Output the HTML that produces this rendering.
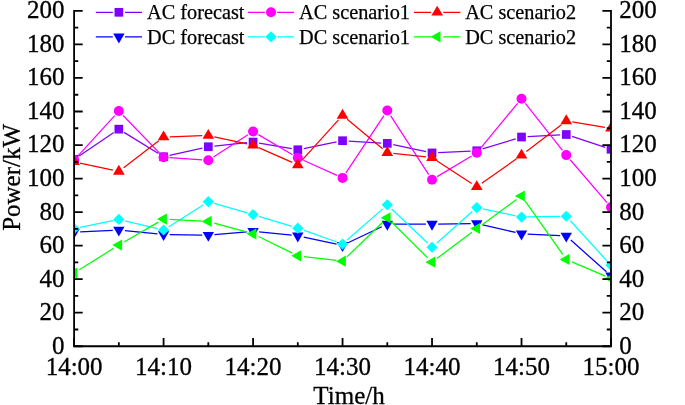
<!DOCTYPE html>
<html><head><meta charset="utf-8"><style>
html,body{margin:0;padding:0;background:#fff;}
body{width:685px;height:405px;overflow:hidden;}
svg{display:block;will-change:transform;font-family:"Liberation Serif",serif;}
</style></head><body>
<svg width="685" height="405" viewBox="0 0 685 405">
<defs><clipPath id="c"><rect x="74.10" y="0" width="536.90" height="345.90"/></clipPath></defs>
<rect width="685" height="405" fill="#fff"/>
<g clip-path="url(#c)">
<path d="M79.16,155.90L113.78,132.56M124.03,132.36L158.39,153.59M169.54,155.46L202.37,148.08M214.39,146.11L247.00,142.69M259.08,143.09L291.80,148.72M303.79,148.55L336.57,141.92M348.64,141.08L381.20,143.03M393.26,144.67L426.07,151.67M438.13,152.64L470.68,151.06M482.61,148.97L515.69,138.82M527.61,136.69L560.17,134.86M572.05,136.42L605.21,147.35" stroke="#8000ff" stroke-width="1.25" fill="none"/>
<rect x="69.75" y="154.95" width="8.70" height="8.70" fill="#8000ff"/>
<rect x="114.49" y="124.80" width="8.70" height="8.70" fill="#8000ff"/>
<rect x="159.23" y="152.44" width="8.70" height="8.70" fill="#8000ff"/>
<rect x="203.97" y="142.39" width="8.70" height="8.70" fill="#8000ff"/>
<rect x="248.72" y="137.70" width="8.70" height="8.70" fill="#8000ff"/>
<rect x="293.46" y="145.41" width="8.70" height="8.70" fill="#8000ff"/>
<rect x="338.20" y="136.36" width="8.70" height="8.70" fill="#8000ff"/>
<rect x="382.94" y="139.04" width="8.70" height="8.70" fill="#8000ff"/>
<rect x="427.68" y="148.59" width="8.70" height="8.70" fill="#8000ff"/>
<rect x="472.42" y="146.41" width="8.70" height="8.70" fill="#8000ff"/>
<rect x="517.17" y="132.68" width="8.70" height="8.70" fill="#8000ff"/>
<rect x="561.91" y="130.16" width="8.70" height="8.70" fill="#8000ff"/>
<rect x="606.65" y="144.90" width="8.70" height="8.70" fill="#8000ff"/>
<path d="M78.21,155.63L114.73,115.57M123.08,115.45L159.34,152.91M169.67,157.71L202.24,159.90M213.45,157.01L247.94,134.80M258.33,134.59L292.55,154.71M303.37,160.30L336.99,175.40M345.93,172.82L383.92,115.64M390.60,115.68L428.72,174.62M437.26,176.59L471.55,155.92M480.66,148.07L517.63,103.37M525.31,103.45L562.47,150.34M570.23,159.74L607.03,202.58" stroke="#ff00ff" stroke-width="1.25" fill="none"/>
<circle cx="74.10" cy="160.14" r="5.00" fill="#ff00ff"/>
<circle cx="118.84" cy="111.07" r="5.00" fill="#ff00ff"/>
<circle cx="163.58" cy="157.29" r="5.00" fill="#ff00ff"/>
<circle cx="208.32" cy="160.31" r="5.00" fill="#ff00ff"/>
<circle cx="253.07" cy="131.50" r="5.00" fill="#ff00ff"/>
<circle cx="297.81" cy="157.80" r="5.00" fill="#ff00ff"/>
<circle cx="342.55" cy="177.90" r="5.00" fill="#ff00ff"/>
<circle cx="387.29" cy="110.56" r="5.00" fill="#ff00ff"/>
<circle cx="432.03" cy="179.74" r="5.00" fill="#ff00ff"/>
<circle cx="476.77" cy="152.77" r="5.00" fill="#ff00ff"/>
<circle cx="521.52" cy="98.67" r="5.00" fill="#ff00ff"/>
<circle cx="566.26" cy="155.12" r="5.00" fill="#ff00ff"/>
<circle cx="611.00" cy="207.21" r="5.00" fill="#ff00ff"/>
<path d="M80.07,163.09L112.88,170.09M123.68,167.65L158.74,140.74M169.68,136.82L202.23,135.73M214.29,136.81L247.11,143.94M258.65,147.68L292.22,162.39M301.90,160.31L338.46,119.94M347.24,119.32L382.60,148.71M393.35,153.29L425.97,156.95M437.14,160.96L471.66,183.45M481.76,183.26L516.53,158.80M526.36,151.57L561.42,124.66M572.28,121.94L604.98,127.33" stroke="#ff0000" stroke-width="1.25" fill="none"/>
<polygon points="74.10,155.22 68.25,165.12 79.95,165.12" fill="#ff0000"/>
<polygon points="118.84,164.76 112.99,174.66 124.69,174.66" fill="#ff0000"/>
<polygon points="163.58,130.43 157.73,140.33 169.43,140.33" fill="#ff0000"/>
<polygon points="208.32,128.92 202.47,138.82 214.17,138.82" fill="#ff0000"/>
<polygon points="253.07,138.63 247.22,148.53 258.92,148.53" fill="#ff0000"/>
<polygon points="297.81,158.23 291.96,168.13 303.66,168.13" fill="#ff0000"/>
<polygon points="342.55,108.82 336.70,118.72 348.40,118.72" fill="#ff0000"/>
<polygon points="387.29,146.00 381.44,155.91 393.14,155.91" fill="#ff0000"/>
<polygon points="432.03,151.03 426.18,160.93 437.88,160.93" fill="#ff0000"/>
<polygon points="476.77,180.17 470.92,190.07 482.62,190.07" fill="#ff0000"/>
<polygon points="521.52,148.68 515.67,158.58 527.37,158.58" fill="#ff0000"/>
<polygon points="566.26,114.35 560.41,124.25 572.11,124.25" fill="#ff0000"/>
<polygon points="611.00,121.72 605.15,131.62 616.85,131.62" fill="#ff0000"/>
<path d="M80.19,231.87L112.75,230.29M124.91,230.60L157.51,233.90M169.68,234.60L202.23,235.09M214.40,234.66L246.99,231.85M259.14,231.94L291.74,235.24M303.77,237.13L336.58,244.13M348.06,242.78L381.78,226.75M393.39,224.13L425.93,224.13M438.13,224.06L470.68,223.69M482.72,224.98L515.57,232.48M527.61,234.14L560.17,235.72M570.81,240.08L606.45,271.83" stroke="#0000ff" stroke-width="1.25" fill="none"/>
<polygon points="74.10,238.77 68.40,228.87 79.80,228.87" fill="#0000ff"/>
<polygon points="118.84,236.59 113.14,226.69 124.54,226.69" fill="#0000ff"/>
<polygon points="163.58,241.11 157.88,231.21 169.28,231.21" fill="#0000ff"/>
<polygon points="208.32,241.78 202.62,231.88 214.02,231.88" fill="#0000ff"/>
<polygon points="253.07,237.93 247.37,228.03 258.77,228.03" fill="#0000ff"/>
<polygon points="297.81,242.45 292.11,232.55 303.51,232.55" fill="#0000ff"/>
<polygon points="342.55,252.00 336.85,242.10 348.25,242.10" fill="#0000ff"/>
<polygon points="387.29,230.73 381.59,220.83 392.99,220.83" fill="#0000ff"/>
<polygon points="432.03,230.73 426.33,220.83 437.73,220.83" fill="#0000ff"/>
<polygon points="476.77,230.22 471.07,220.32 482.47,220.32" fill="#0000ff"/>
<polygon points="521.52,240.44 515.82,230.54 527.22,230.54" fill="#0000ff"/>
<polygon points="566.26,242.62 560.56,232.72 571.96,232.72" fill="#0000ff"/>
<polygon points="611.00,282.49 605.30,272.58 616.70,272.58" fill="#0000ff"/>
<path d="M80.07,227.42L112.87,220.67M124.78,220.84L157.65,228.59M168.74,226.73L203.17,204.94M214.19,203.37L247.21,212.89M258.90,216.35L291.97,226.38M303.56,230.19L336.80,242.02M347.14,240.04L382.70,208.88M391.72,209.06L427.60,243.05M436.60,243.19L472.21,211.59M482.74,208.82L515.55,215.82M527.62,216.98L560.16,216.37M570.37,220.76L606.89,260.82" stroke="#00ffff" stroke-width="1.25" fill="none"/>
<polygon points="74.10,223.05 79.70,228.65 74.10,234.25 68.50,228.65" fill="#00ffff"/>
<polygon points="118.84,213.84 124.44,219.44 118.84,225.04 113.24,219.44" fill="#00ffff"/>
<polygon points="163.58,224.39 169.18,229.99 163.58,235.59 157.98,229.99" fill="#00ffff"/>
<polygon points="208.32,196.08 213.92,201.68 208.32,207.28 202.72,201.68" fill="#00ffff"/>
<polygon points="253.07,208.98 258.67,214.58 253.07,220.18 247.47,214.58" fill="#00ffff"/>
<polygon points="297.81,222.55 303.41,228.15 297.81,233.75 292.21,228.15" fill="#00ffff"/>
<polygon points="342.55,238.46 348.15,244.06 342.55,249.66 336.95,244.06" fill="#00ffff"/>
<polygon points="387.29,199.26 392.89,204.86 387.29,210.46 381.69,204.86" fill="#00ffff"/>
<polygon points="432.03,241.64 437.63,247.24 432.03,252.84 426.43,247.24" fill="#00ffff"/>
<polygon points="476.77,201.94 482.38,207.54 476.77,213.14 471.17,207.54" fill="#00ffff"/>
<polygon points="521.52,211.49 527.12,217.09 521.52,222.69 515.92,217.09" fill="#00ffff"/>
<polygon points="566.26,210.65 571.86,216.25 566.26,221.85 560.66,216.25" fill="#00ffff"/>
<polygon points="611.00,259.73 616.60,265.33 611.00,270.93 605.40,265.33" fill="#00ffff"/>
<path d="M79.27,269.80L113.67,248.30M124.12,242.00L158.31,222.16M169.67,219.42L202.23,221.13M214.20,223.08L247.19,232.21M258.54,236.53L292.33,253.10M303.87,256.51L336.49,260.42M346.93,256.90L382.91,222.01M391.62,222.06L427.70,257.85M436.91,258.48L471.90,232.15M481.71,224.90L516.58,199.57M525.03,200.97L562.74,254.48M571.87,261.86L605.39,276.17" stroke="#00ff00" stroke-width="1.25" fill="none"/>
<polygon points="67.50,273.04 77.40,267.44 77.40,278.64" fill="#00ff00"/>
<polygon points="112.24,245.06 122.14,239.47 122.14,250.66" fill="#00ff00"/>
<polygon points="156.98,219.10 166.88,213.50 166.88,224.70" fill="#00ff00"/>
<polygon points="201.72,221.45 211.62,215.85 211.62,227.05" fill="#00ff00"/>
<polygon points="246.47,233.84 256.37,228.24 256.37,239.44" fill="#00ff00"/>
<polygon points="291.21,255.78 301.11,250.18 301.11,261.38" fill="#00ff00"/>
<polygon points="335.95,261.14 345.85,255.54 345.85,266.75" fill="#00ff00"/>
<polygon points="380.69,217.76 390.59,212.16 390.59,223.36" fill="#00ff00"/>
<polygon points="425.43,262.15 435.33,256.55 435.33,267.75" fill="#00ff00"/>
<polygon points="470.17,228.48 480.07,222.88 480.07,234.08" fill="#00ff00"/>
<polygon points="514.92,195.99 524.82,190.39 524.82,201.59" fill="#00ff00"/>
<polygon points="559.66,259.47 569.56,253.87 569.56,265.07" fill="#00ff00"/>
<polygon points="604.40,278.56 614.30,272.96 614.30,284.16" fill="#00ff00"/>
</g>
<path d="M74.10,10.00V346.25H611.00V10.00" stroke="#000" stroke-width="1.8" fill="none" stroke-linejoin="miter" stroke-linecap="butt"/>
<path d="M74.10,346.25h8.6M611.00,346.25h-8.6M74.10,329.48h4.2M611.00,329.48h-4.2M74.10,312.72h8.6M611.00,312.72h-8.6M74.10,295.95h4.2M611.00,295.95h-4.2M74.10,279.18h8.6M611.00,279.18h-8.6M74.10,262.41h4.2M611.00,262.41h-4.2M74.10,245.64h8.6M611.00,245.64h-8.6M74.10,228.88h4.2M611.00,228.88h-4.2M74.10,212.11h8.6M611.00,212.11h-8.6M74.10,195.34h4.2M611.00,195.34h-4.2M74.10,178.57h8.6M611.00,178.57h-8.6M74.10,161.81h4.2M611.00,161.81h-4.2M74.10,145.04h8.6M611.00,145.04h-8.6M74.10,128.27h4.2M611.00,128.27h-4.2M74.10,111.50h8.6M611.00,111.50h-8.6M74.10,94.74h4.2M611.00,94.74h-4.2M74.10,77.97h8.6M611.00,77.97h-8.6M74.10,61.20h4.2M611.00,61.20h-4.2M74.10,44.43h8.6M611.00,44.43h-8.6M74.10,27.67h4.2M611.00,27.67h-4.2M74.10,10.90h8.6M611.00,10.90h-8.6M74.10,346.25v-8.2M118.84,346.25v-4.0M163.58,346.25v-8.2M208.32,346.25v-4.0M253.07,346.25v-8.2M297.81,346.25v-4.0M342.55,346.25v-8.2M387.29,346.25v-4.0M432.03,346.25v-8.2M476.77,346.25v-4.0M521.52,346.25v-8.2M566.26,346.25v-4.0M611.00,346.25v-8.2" stroke="#000" stroke-width="1.8" fill="none"/>
<g font-size="25" fill="#000" stroke="#000" stroke-width="0.3">
<text transform="translate(64.60,353.65) scale(1,1.0)" text-anchor="end">0</text>
<text transform="translate(619.20,353.65) scale(1,1.0)">0</text>
<text transform="translate(64.60,320.12) scale(1,1.0)" text-anchor="end">20</text>
<text transform="translate(619.20,320.12) scale(1,1.0)">20</text>
<text transform="translate(64.60,286.58) scale(1,1.0)" text-anchor="end">40</text>
<text transform="translate(619.20,286.58) scale(1,1.0)">40</text>
<text transform="translate(64.60,253.04) scale(1,1.0)" text-anchor="end">60</text>
<text transform="translate(619.20,253.04) scale(1,1.0)">60</text>
<text transform="translate(64.60,219.51) scale(1,1.0)" text-anchor="end">80</text>
<text transform="translate(619.20,219.51) scale(1,1.0)">80</text>
<text transform="translate(64.60,185.97) scale(1,1.0)" text-anchor="end">100</text>
<text transform="translate(619.20,185.97) scale(1,1.0)">100</text>
<text transform="translate(64.60,152.44) scale(1,1.0)" text-anchor="end">120</text>
<text transform="translate(619.20,152.44) scale(1,1.0)">120</text>
<text transform="translate(64.60,118.91) scale(1,1.0)" text-anchor="end">140</text>
<text transform="translate(619.20,118.91) scale(1,1.0)">140</text>
<text transform="translate(64.60,85.37) scale(1,1.0)" text-anchor="end">160</text>
<text transform="translate(619.20,85.37) scale(1,1.0)">160</text>
<text transform="translate(64.60,51.83) scale(1,1.0)" text-anchor="end">180</text>
<text transform="translate(619.20,51.83) scale(1,1.0)">180</text>
<text transform="translate(64.60,18.30) scale(1,1.0)" text-anchor="end">200</text>
<text transform="translate(619.20,18.30) scale(1,1.0)">200</text>
<text transform="translate(74.10,374.80) scale(1,1.0)" text-anchor="middle">14:00</text>
<text transform="translate(163.58,374.80) scale(1,1.0)" text-anchor="middle">14:10</text>
<text transform="translate(253.07,374.80) scale(1,1.0)" text-anchor="middle">14:20</text>
<text transform="translate(342.55,374.80) scale(1,1.0)" text-anchor="middle">14:30</text>
<text transform="translate(432.03,374.80) scale(1,1.0)" text-anchor="middle">14:40</text>
<text transform="translate(521.52,374.80) scale(1,1.0)" text-anchor="middle">14:50</text>
<text transform="translate(611.00,374.80) scale(1,1.0)" text-anchor="middle">15:00</text>
<text transform="translate(349.00,403.50) scale(1,1.0)" text-anchor="middle">Time/h</text>
<text transform="translate(19.70,177.40) rotate(-90) scale(1,1.0)" text-anchor="middle">Power/kW</text>
</g>
<g font-size="20.3" fill="#000">
<path d="M95.8,12.3H112.80M125.00,12.3H142.0" stroke="#8000ff" stroke-width="1.25"/>
<rect x="114.55" y="7.95" width="8.70" height="8.70" fill="#8000ff"/>
<text x="147.0" y="19.20" stroke="#000" stroke-width="0.25">AC forecast</text>
<path d="M248.0,12.3H264.90M277.10,12.3H294.0" stroke="#ff00ff" stroke-width="1.25"/>
<circle cx="271.00" cy="12.30" r="5.00" fill="#ff00ff"/>
<text x="299.0" y="19.20" stroke="#000" stroke-width="0.25">AC scenario1</text>
<path d="M414.0,12.3H431.10M443.30,12.3H460.4" stroke="#ff0000" stroke-width="1.25"/>
<polygon points="437.20,5.70 431.35,15.60 443.05,15.60" fill="#ff0000"/>
<text x="465.2" y="19.20" stroke="#000" stroke-width="0.25">AC scenario2</text>
<path d="M95.8,36.8H112.80M125.00,36.8H142.0" stroke="#0000ff" stroke-width="1.25"/>
<polygon points="118.90,43.40 113.20,33.50 124.60,33.50" fill="#0000ff"/>
<text x="147.0" y="43.70" stroke="#000" stroke-width="0.25">DC forecast</text>
<path d="M248.0,36.8H264.90M277.10,36.8H294.0" stroke="#00ffff" stroke-width="1.25"/>
<polygon points="271.00,31.20 276.60,36.80 271.00,42.40 265.40,36.80" fill="#00ffff"/>
<text x="299.0" y="43.70" stroke="#000" stroke-width="0.25">DC scenario1</text>
<path d="M414.0,36.8H431.10M443.30,36.8H460.4" stroke="#00ff00" stroke-width="1.25"/>
<polygon points="430.60,36.80 440.50,31.20 440.50,42.40" fill="#00ff00"/>
<text x="465.2" y="43.70" stroke="#000" stroke-width="0.25">DC scenario2</text>
</g>
</svg>
</body></html>
